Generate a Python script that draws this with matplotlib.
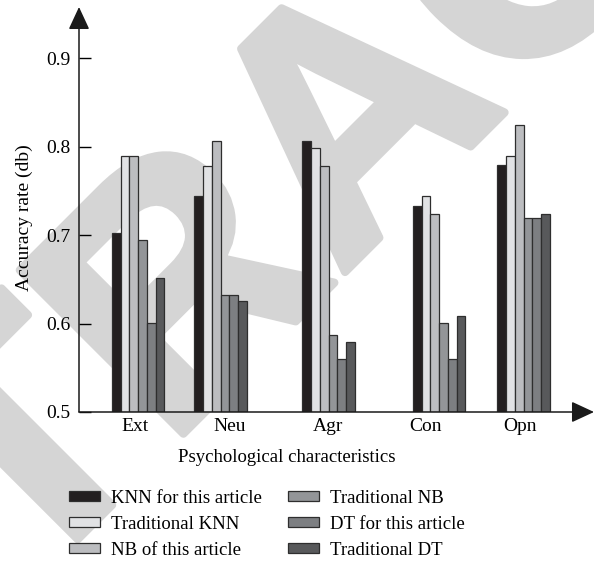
import matplotlib
matplotlib.use("Agg")
import matplotlib.pyplot as plt
import matplotlib.patheffects as pe
from matplotlib.patches import Patch
import numpy as np

plt.rcParams['font.family'] = ['Liberation Serif', 'DejaVu Serif']
plt.rcParams['font.size'] = 13

categories = ["Ext", "Neu", "Agr", "Con", "Opn"]
series_names = [
    "KNN for this article",
    "Traditional KNN",
    "NB of this article",
    "Traditional NB",
    "DT for this article",
    "Traditional DT",
]
knn_article = [0.702, 0.744, 0.807, 0.733, 0.779]
knn_trad    = [0.790, 0.778, 0.798, 0.744, 0.789]
nb_article  = [0.790, 0.807, 0.778, 0.724, 0.824]
nb_trad     = [0.694, 0.632, 0.587, 0.601, 0.719]
dt_article  = [0.601, 0.632, 0.560, 0.560, 0.719]
dt_trad     = [0.651, 0.626, 0.579, 0.608, 0.724]
series = [knn_article, knn_trad, nb_article, nb_trad, dt_article, dt_trad]
colors = ["#231f20", "#e1e2e4", "#bcbdc0", "#939598", "#7d7f82", "#58595b"]

# layout (x in pixel-like units from the y axis)
group_x = [59, 141.5, 249.5, 360, 444.5]
label_x = [56, 151, 249, 346, 441]
bar_w = 8.75

fig = plt.figure(figsize=(5.94, 5.61), dpi=100)

# watermark, behind everything
wm = fig.text(425 / 594, 1 - 192 / 561, "RETRACTED", fontsize=242, fontweight='bold',
              family='Liberation Sans', color='#d5d5d5', rotation=45,
              rotation_mode='anchor', ha='center', va='baseline', zorder=-5)
wm.set_path_effects([pe.withStroke(linewidth=6, foreground='#d5d5d5')])

ax = fig.add_axes([79 / 594, 1 - 412 / 561, 515 / 594, 405 / 561])
ax.patch.set_alpha(0)

for i, vals in enumerate(series):
    xs = np.array(group_x) + (i - 2.5) * bar_w
    ax.bar(xs, np.array(vals) - 0.5, bottom=0.5, width=bar_w, color=colors[i],
           edgecolor='#2e2e2e', linewidth=0.9, zorder=2)

ax.set_xlim(0, 515)
ax.set_ylim(0.5, 0.958)
for s in ax.spines.values():
    s.set_visible(False)

arrow = dict(arrowstyle='-|>,head_length=14,head_width=6.5', mutation_scale=1,
             color='#1a1a1a', lw=1.1, shrinkA=0, shrinkB=0)
ax.annotate('', xy=(0, 1), xytext=(0, 0), xycoords='axes fraction', arrowprops=arrow)
ax.annotate('', xy=(1, 0), xytext=(0, 0), xycoords='axes fraction', arrowprops=arrow)

ax.set_yticks([0.5, 0.6, 0.7, 0.8, 0.9])
ax.set_yticklabels(["0.5", "0.6", "0.7", "0.8", "0.9"])
ax.tick_params(axis='y', direction='in', length=8.5, width=1, pad=6, labelsize=14)
ax.set_xticks(label_x)
ax.set_xticklabels(categories)
ax.tick_params(axis='x', length=0, pad=4, labelsize=14)

fig.text(287 / 594, 1 - 457 / 561, "Psychological characteristics", ha='center',
         va='center', fontsize=13.5)
fig.text(24 / 594, 1 - 218 / 561, "Accuracy rate (db)", ha='center', va='center',
         rotation=90, fontsize=14)

handles = [Patch(facecolor=c, edgecolor='#2e2e2e', linewidth=0.9) for c in colors]
fig.legend(handles, series_names, ncol=2, loc='upper left',
           bbox_to_anchor=(69 / 594, 1 - 490 / 561), frameon=False, fontsize=13.5,
           handlelength=1.65, handleheight=0.45, handletextpad=0.6,
           columnspacing=1.4, labelspacing=0.48, borderpad=0, borderaxespad=0)

fig.savefig("out.png", dpi=100)
